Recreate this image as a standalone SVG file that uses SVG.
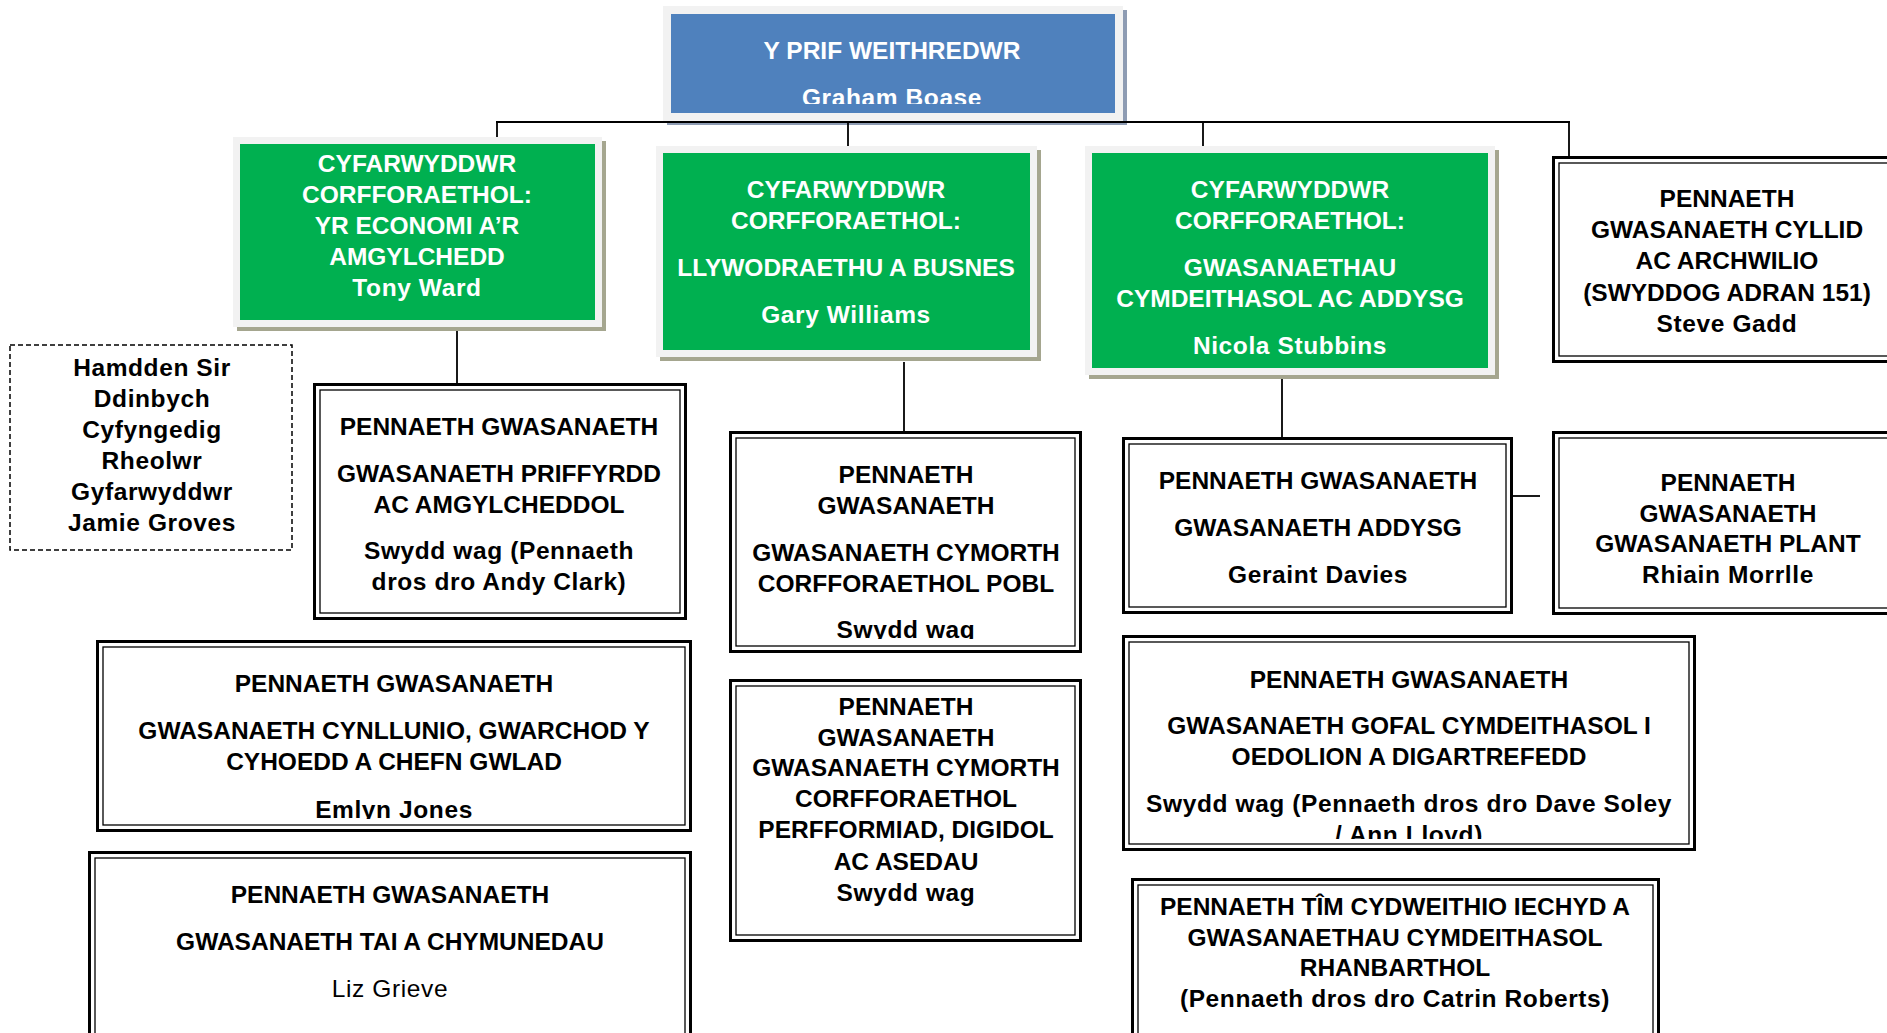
<svg xmlns="http://www.w3.org/2000/svg" width="1887" height="1033" viewBox="0 0 1887 1033">
<style>
.t{font-family:"Liberation Sans",Arial,sans-serif;font-size:24.5px;font-weight:bold;text-anchor:middle;fill:#000}
.lc{letter-spacing:0.6px}
.w{fill:#fff}
.reg{font-weight:normal}
.sh{fill:#a5a68f}
.shb{fill:#8e9cb3}
.fr{fill:#f2f2f2}
.gr{fill:#00b050}
.bl{fill:#4f81bd}
.o{fill:#fff;stroke:#000;stroke-width:3}
.i{fill:none;stroke:#000;stroke-width:1.3}
.d{fill:#fff;stroke:#000;stroke-width:1.5;stroke-dasharray:5 3}
.c line{stroke:#000;stroke-width:1.8}
</style>
<defs>
<clipPath id="clipCeo"><rect x="671" y="14" width="444" height="90"/></clipPath>
<clipPath id="clipB"><rect x="729" y="431" width="353" height="208"/></clipPath>
<clipPath id="clipE"><rect x="96" y="640" width="596" height="179"/></clipPath>
<clipPath id="clipG"><rect x="1122" y="635" width="574" height="204"/></clipPath>
</defs>
<rect width="1887" height="1033" fill="#fff"/>

<g id="ceo">
<rect class="shb" x="667" y="10" width="460" height="115"/>
<rect class="fr" x="663" y="6" width="460" height="115"/>
<rect class="bl" x="671" y="14" width="444" height="99"/>
<text class="t w" x="892" y="59">Y PRIF WEITHREDWR</text>
<text class="t w lc" x="892" y="106" clip-path="url(#clipCeo)">Graham Boase</text>
</g>

<g id="dir-economi">
<rect class="sh" x="237" y="141" width="369" height="190"/>
<rect class="fr" x="233" y="137" width="369" height="190"/>
<rect class="gr" x="240" y="144" width="355" height="176"/>
<text class="t w" x="417" y="172">CYFARWYDDWR</text>
<text class="t w" x="417" y="203">CORFFORAETHOL:</text>
<text class="t w" x="417" y="234">YR ECONOMI A’R</text>
<text class="t w" x="417" y="265">AMGYLCHEDD</text>
<text class="t w lc" x="417" y="296">Tony Ward</text>
</g>

<g id="dir-llywodraethu">
<rect class="sh" x="660" y="150" width="381" height="211"/>
<rect class="fr" x="656" y="146" width="381" height="211"/>
<rect class="gr" x="663" y="153" width="367" height="197"/>
<text class="t w" x="846" y="198">CYFARWYDDWR</text>
<text class="t w" x="846" y="229">CORFFORAETHOL:</text>
<text class="t w" x="846" y="276">LLYWODRAETHU A BUSNES</text>
<text class="t w lc" x="846" y="323">Gary Williams</text>
</g>

<g id="dir-gwasanaethau">
<rect class="sh" x="1089" y="150" width="410" height="229"/>
<rect class="fr" x="1085" y="146" width="410" height="229"/>
<rect class="gr" x="1092" y="153" width="396" height="215"/>
<text class="t w" x="1290" y="198">CYFARWYDDWR</text>
<text class="t w" x="1290" y="229">CORFFORAETHOL:</text>
<text class="t w" x="1290" y="276">GWASANAETHAU</text>
<text class="t w" x="1290" y="307">CYMDEITHASOL AC ADDYSG</text>
<text class="t w lc" x="1290" y="354">Nicola Stubbins</text>
</g>

<g id="head-cyllid">
<rect class="o" x="1553.5" y="157.5" width="350" height="204"/>
<rect class="i" x="1559" y="163" width="339" height="193"/>
<text class="t" x="1727" y="207">PENNAETH</text>
<text class="t" x="1727" y="238">GWASANAETH CYLLID</text>
<text class="t" x="1727" y="269">AC ARCHWILIO</text>
<text class="t" x="1727" y="301">(SWYDDOG ADRAN 151)</text>
<text class="t lc" x="1727" y="332">Steve Gadd</text>
</g>

<g id="hamdden">
<rect class="d" x="10" y="345" width="282" height="205"/>
<text class="t lc" x="152" y="376">Hamdden Sir</text>
<text class="t lc" x="152" y="407">Ddinbych</text>
<text class="t lc" x="152" y="438">Cyfyngedig</text>
<text class="t lc" x="152" y="469">Rheolwr</text>
<text class="t lc" x="152" y="500">Gyfarwyddwr</text>
<text class="t lc" x="152" y="531">Jamie Groves</text>
</g>

<g id="head-priffyrdd">
<rect class="o" x="314.5" y="384.5" width="371" height="234"/>
<rect class="i" x="320" y="390" width="360" height="223"/>
<text class="t" x="499" y="435">PENNAETH GWASANAETH</text>
<text class="t" x="499" y="482">GWASANAETH PRIFFYRDD</text>
<text class="t" x="499" y="513">AC AMGYLCHEDDOL</text>
<text class="t lc" x="499" y="559">Swydd wag (Pennaeth</text>
<text class="t lc" x="499" y="590">dros dro Andy Clark)</text>
</g>

<g id="head-pobl">
<rect class="o" x="730.5" y="432.5" width="350" height="219"/>
<rect class="i" x="736" y="438" width="339" height="208"/>
<text class="t" x="906" y="483">PENNAETH</text>
<text class="t" x="906" y="514">GWASANAETH</text>
<text class="t" x="906" y="561">GWASANAETH CYMORTH</text>
<text class="t" x="906" y="592">CORFFORAETHOL POBL</text>
<text class="t lc" x="906" y="638" clip-path="url(#clipB)">Swydd wag</text>
</g>

<g id="head-addysg">
<rect class="o" x="1123.5" y="438.5" width="388" height="174"/>
<rect class="i" x="1129" y="444" width="377" height="163"/>
<text class="t" x="1318" y="489">PENNAETH GWASANAETH</text>
<text class="t" x="1318" y="536">GWASANAETH ADDYSG</text>
<text class="t lc" x="1318" y="583">Geraint Davies</text>
</g>

<g id="head-plant">
<rect class="o" x="1553.5" y="432.5" width="350" height="181"/>
<rect class="i" x="1559" y="438" width="339" height="170"/>
<text class="t" x="1728" y="491">PENNAETH</text>
<text class="t" x="1728" y="522">GWASANAETH</text>
<text class="t" x="1728" y="552">GWASANAETH PLANT</text>
<text class="t lc" x="1728" y="583">Rhiain Morrlle</text>
</g>

<g id="head-cynllunio">
<rect class="o" x="97.5" y="641.5" width="593" height="189"/>
<rect class="i" x="103" y="647" width="582" height="178"/>
<text class="t" x="394" y="692">PENNAETH GWASANAETH</text>
<text class="t" x="394" y="739">GWASANAETH CYNLLUNIO, GWARCHOD Y</text>
<text class="t" x="394" y="770">CYHOEDD A CHEFN GWLAD</text>
<text class="t lc" x="394" y="818" clip-path="url(#clipE)">Emlyn Jones</text>
</g>

<g id="head-tai">
<rect class="o" x="89.5" y="852.5" width="601" height="200"/>
<rect class="i" x="95" y="858" width="590" height="189"/>
<text class="t" x="390" y="903">PENNAETH GWASANAETH</text>
<text class="t" x="390" y="950">GWASANAETH TAI A CHYMUNEDAU</text>
<text class="t reg lc" x="390" y="997">Liz Grieve</text>
</g>

<g id="head-perfformiad">
<rect class="o" x="730.5" y="680.5" width="350" height="260"/>
<rect class="i" x="736" y="686" width="339" height="249"/>
<text class="t" x="906" y="715">PENNAETH</text>
<text class="t" x="906" y="746">GWASANAETH</text>
<text class="t" x="906" y="776">GWASANAETH CYMORTH</text>
<text class="t" x="906" y="807">CORFFORAETHOL</text>
<text class="t" x="906" y="838">PERFFORMIAD, DIGIDOL</text>
<text class="t" x="906" y="870">AC ASEDAU</text>
<text class="t lc" x="906" y="901">Swydd wag</text>
</g>

<g id="head-gofal">
<rect class="o" x="1123.5" y="636.5" width="571" height="213"/>
<rect class="i" x="1129" y="642" width="560" height="202"/>
<text class="t" x="1409" y="688">PENNAETH GWASANAETH</text>
<text class="t" x="1409" y="734">GWASANAETH GOFAL CYMDEITHASOL I</text>
<text class="t" x="1409" y="765">OEDOLION A DIGARTREFEDD</text>
<text class="t lc" x="1409" y="812">Swydd wag (Pennaeth dros dro Dave Soley</text>
<text class="t lc" x="1409" y="843" clip-path="url(#clipG)">/ Ann Lloyd)</text>
</g>

<g id="head-iechyd">
<rect class="o" x="1132.5" y="879.5" width="526" height="200"/>
<rect class="i" x="1138" y="885" width="515" height="189"/>
<text class="t" x="1395" y="915">PENNAETH TÎM CYDWEITHIO IECHYD A</text>
<text class="t" x="1395" y="946">GWASANAETHAU CYMDEITHASOL</text>
<text class="t" x="1395" y="976">RHANBARTHOL</text>
<text class="t lc" x="1395" y="1007">(Pennaeth dros dro Catrin Roberts)</text>
</g>

<g id="connectors" class="c">
<line x1="496" y1="122" x2="1570" y2="122"/>
<line x1="497" y1="121" x2="497" y2="137"/>
<line x1="848" y1="121" x2="848" y2="146"/>
<line x1="1203" y1="121" x2="1203" y2="146"/>
<line x1="1569" y1="121" x2="1569" y2="157"/>
<line x1="457" y1="331" x2="457" y2="383"/>
<line x1="904" y1="362" x2="904" y2="431"/>
<line x1="1282" y1="379" x2="1282" y2="437"/>
<line x1="1513" y1="496" x2="1540" y2="496"/>
</g>
</svg>
